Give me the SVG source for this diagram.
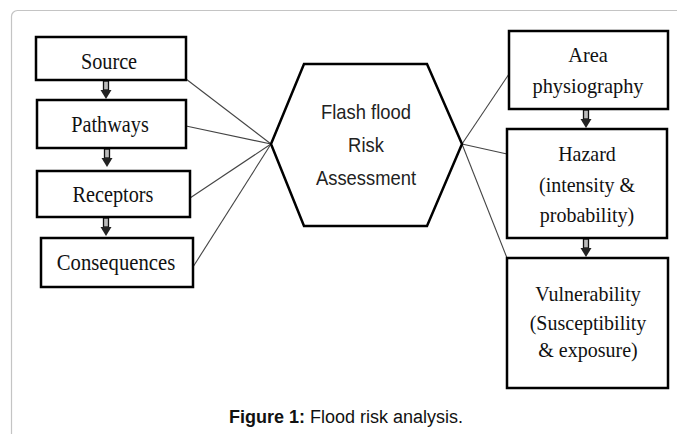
<svg xmlns="http://www.w3.org/2000/svg" width="677" height="434" viewBox="0 0 677 434">
<style>
.box{fill:#fff;stroke:#000;stroke-width:2.5}
.lt{font-family:"Liberation Serif","Times New Roman",serif;font-size:23px;fill:#111;text-anchor:middle}
.rt{font-family:"Liberation Serif","Times New Roman",serif;font-size:21.5px;fill:#111;text-anchor:middle}
.ht{font-family:"Liberation Sans",Arial,sans-serif;font-size:20px;fill:#222;text-anchor:middle}
.conn{stroke:#444;stroke-width:1.1;fill:none}
.shaft{fill:#bbb;stroke:#111;stroke-width:1.3}
.head{fill:#222}
</style>
<defs>
<g id="arrow">
<rect class="shaft" x="-2.5" y="0" width="5" height="9"/>
<polygon class="head" points="-5.5,9 5.5,9 0,18"/>
</g>
</defs>
<rect x="11.5" y="10.5" width="700" height="460" rx="6" ry="6" fill="#fff" stroke="#c4c4c4" stroke-width="1.2"/>
<g id="connectors">
<line class="conn" x1="186" y1="79" x2="271" y2="144"/>
<line class="conn" x1="186" y1="126" x2="271" y2="144"/>
<line class="conn" x1="190" y1="198" x2="271" y2="144"/>
<line class="conn" x1="193" y1="267" x2="271" y2="144"/>
<line class="conn" x1="462" y1="144" x2="509" y2="74"/>
<line class="conn" x1="462" y1="144" x2="507" y2="154"/>
<line class="conn" x1="462" y1="144" x2="507" y2="258"/>
<use href="#arrow" x="106" y="81"/>
<use href="#arrow" x="107" y="149"/>
<use href="#arrow" x="106" y="218"/>
<use href="#arrow" x="586" y="110"/>
<use href="#arrow" x="586" y="239"/>
</g>
<g id="source"><rect class="box" x="36" y="37" width="150" height="43"/><text class="lt" transform="translate(109,69) scale(0.88,1)">Source</text></g>
<g id="pathways"><rect class="box" x="37" y="100" width="149" height="48"/><text class="lt" transform="translate(110,132) scale(0.88,1)">Pathways</text></g>
<g id="receptors"><rect class="box" x="37" y="171" width="153" height="46"/><text class="lt" transform="translate(113,202) scale(0.88,1)">Receptors</text></g>
<g id="consequences"><rect class="box" x="41" y="238" width="152" height="49"/><text class="lt" transform="translate(116,270) scale(0.9,1)">Consequences</text></g>
<g id="hexagon"><polygon points="304,64 427,64 462,144 427,226 304,226 271,144" fill="#fff" stroke="#000" stroke-width="2.5" stroke-linejoin="miter"/>
<text class="ht" transform="translate(366,119) scale(0.92,1)">Flash flood</text>
<text class="ht" transform="translate(366,152) scale(0.92,1)">Risk</text>
<text class="ht" transform="translate(366,185) scale(0.92,1)">Assessment</text></g>
<g id="area"><rect class="box" x="509" y="31" width="159" height="78"/><text class="rt" transform="translate(588,62) scale(0.95,1)">Area</text><text class="rt" transform="translate(588,93) scale(0.95,1)">physiography</text></g>
<g id="hazard"><rect class="box" x="507" y="129" width="160" height="109"/><text class="rt" transform="translate(587,161) scale(0.93,1)">Hazard</text><text class="rt" transform="translate(587,192) scale(0.93,1)">(intensity &amp;</text><text class="rt" transform="translate(587,222) scale(0.93,1)">probability)</text></g>
<g id="vulnerability"><rect class="box" x="507" y="258" width="161" height="130"/><text class="rt" transform="translate(588,301) scale(0.93,1)">Vulnerability</text><text class="rt" transform="translate(588,330) scale(0.93,1)">(Susceptibility</text><text class="rt" transform="translate(588,357) scale(0.93,1)">&amp; exposure)</text></g>
<text x="229" y="423" font-family="Liberation Sans,Arial,sans-serif" font-size="18" fill="#111"><tspan font-weight="bold">Figure 1:</tspan> Flood risk analysis.</text>
</svg>
